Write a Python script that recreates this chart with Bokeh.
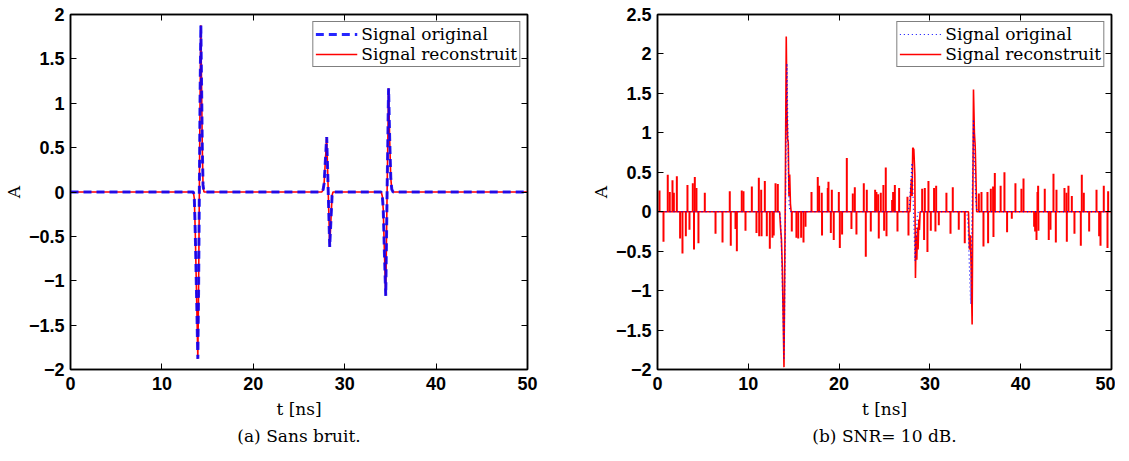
from bokeh.plotting import figure
from bokeh.layouts import row
from bokeh.models import Range1d, LinearAxis, FixedTicker, Title, Legend, LegendItem, CustomJSTickFormatter
from bokeh.embed import file_html
from bokeh.resources import INLINE

# ---------------- data ----------------
x_ticks = [0, 10, 20, 30, 40, 50]
y_ticks_a = [-2, -1.5, -1, -0.5, 0, 0.5, 1, 1.5, 2]
y_ticks_b = [-2, -1.5, -1, -0.5, 0, 0.5, 1, 1.5, 2, 2.5]

# original signal (three pulses)
orig_t1 = [13.45, 13.55, 13.65, 13.75, 13.85, 13.93, 14.01, 14.09, 14.17, 14.26, 14.34, 14.42, 14.5, 14.6]
orig_a1 = [0.0, -0.08, -0.45, -0.95, -1.45, -1.88, -1.15, -0.1, 1.0, 1.88, 1.2, 0.5, 0.08, 0.0]
orig_t2 = [27.5, 27.65, 27.75, 27.9, 28.03, 28.2, 28.36, 28.5, 28.62, 28.72]
orig_a2 = [0.0, 0.03, 0.1, 0.38, 0.62, 0.0, -0.62, -0.3, -0.04, 0.0]
orig_t3 = [34.0, 34.12, 34.22, 34.35, 34.49, 34.64, 34.8, 34.92, 35.04, 35.15, 35.3]
orig_a3 = [0.0, -0.05, -0.2, -0.7, -1.17, 0.0, 1.17, 0.6, 0.16, 0.03, 0.0]

# reconstructed signal with SNR = 10 dB: pulse regions
rec_t1 = [13.45, 13.55, 13.65, 13.75, 13.85, 13.93, 14.0, 14.08, 14.18, 14.26, 14.33, 14.4, 14.48, 14.56, 14.64, 14.72]
rec_a1 = [0.0, -0.2, -0.35, -0.72, -1.4, -1.97, -0.9, 0.3, 2.22, 1.3, 0.92, 0.88, 0.2, 0.47, 0.1, 0.0]
rec_t2 = [27.8, 27.9, 27.97, 28.04, 28.11, 28.23, 28.34, 28.41, 28.48, 28.56, 28.63, 28.7, 28.78, 28.85, 28.92]
rec_a2 = [0.0, 0.29, 0.42, 0.2, 0.81, 0.79, 0.47, -0.84, -0.3, -0.61, -0.2, -0.48, -0.1, -0.23, 0.0]
rec_t3 = [34.25, 34.36, 34.46, 34.55, 34.65, 34.8, 34.9, 34.99, 35.06, 35.15]
rec_a3 = [0.0, -0.48, -0.3, -0.74, -1.43, 1.55, 1.0, 0.83, 0.49, 0.0]

# reconstructed signal with SNR = 10 dB: isolated noise spikes
spike_t = [0.22, 0.66, 1.13, 1.35, 1.65, 1.80, 2.13, 2.49, 2.75, 3.12, 3.30, 3.52, 3.89, 4.02, 4.11,
           4.29, 4.51, 5.21, 6.39, 7.16, 7.96, 8.07, 8.59, 8.74, 9.28, 9.47, 9.69, 10.39, 10.90,
           11.16, 11.20, 11.42, 11.46, 11.82, 12.04, 12.37, 12.66, 12.80, 13.00, 13.25,
           14.79, 15.30, 15.50, 15.82, 16.08, 16.30, 16.96, 17.65, 17.80, 18.09, 18.12, 18.75,
           18.83, 19.09, 19.20, 19.41, 19.97, 20.08, 20.33, 20.85, 21.36, 21.51, 21.73, 21.91,
           22.72, 22.94, 23.05, 23.49, 23.97, 24.11, 24.30, 24.37, 24.59, 24.88, 24.96, 25.14,
           25.22, 25.84, 25.95, 26.14, 26.43, 26.61, 27.53, 27.64,
           29.15, 29.36, 29.44, 29.73, 29.84, 30.10, 30.46, 30.61, 30.69, 30.98, 31.82, 32.27,
           32.52, 33.18, 33.84,
           35.39, 35.68, 35.90, 36.34, 36.41, 36.71, 36.96, 37.00, 37.15, 37.79, 38.21, 38.50,
           39.02, 39.42, 40.08, 40.31, 41.48, 41.59, 41.74, 41.85, 41.92, 41.95, 42.65, 43.09,
           43.28, 43.61, 43.87, 43.94, 44.82, 45.04, 45.08, 45.26, 45.63, 45.92, 46.62, 46.73,
           46.95, 47.54, 48.35, 48.64, 48.79, 49.15, 49.56, 49.63]
spike_a = [0.27, -0.38, 0.47, 0.25, 0.40, 0.24, 0.45, -0.34, -0.53, -0.31, 0.34, -0.23, 0.36, -0.48, 0.44,
           0.30, -0.40, 0.24, -0.28, -0.39, 0.26, -0.43, -0.22, -0.50, 0.27, 0.26, -0.24, 0.32, -0.27,
           0.43, -0.31, 0.28, -0.31, 0.39, -0.31, -0.47, -0.33, -0.30, 0.36, 0.35,
           -0.25, -0.33, -0.34, -0.33, -0.39, -0.19, 0.25, 0.44, 0.33, 0.24, -0.30, 0.30,
           0.38, -0.27, 0.28, -0.36, 0.25, -0.46, -0.29, 0.68, -0.22, 0.23, 0.31, -0.29,
           0.36, -0.57, 0.28, -0.25, 0.28, 0.25, 0.22, -0.34, 0.24, 0.34, -0.24, 0.56,
           -0.31, 0.15, 0.25, 0.34, -0.25, 0.30, 0.19, -0.30,
           0.29, -0.36, 0.30, -0.51, 0.39, -0.24, 0.30, -0.25, 0.33, -0.17, 0.24, -0.28,
           0.31, -0.23, -0.40,
           0.23, 0.25, -0.44, 0.25, -0.40, 0.29, 0.32, -0.32, 0.49, 0.33, 0.50, -0.26,
           -0.09, 0.36, 0.29, 0.42, -0.19, -0.25, -0.36, 0.25, 0.33, -0.24, 0.29, -0.36,
           -0.23, 0.48, -0.39, 0.28, 0.30, 0.24, -0.38, 0.33, 0.20, -0.28, -0.43, 0.47,
           0.24, -0.25, 0.28, -0.31, -0.43, 0.33, -0.46, 0.26]

t_start, t_end = 0, 50

orig_t = [t_start] + orig_t1 + orig_t2 + orig_t3 + [t_end]
orig_a = [0.0] + orig_a1 + orig_a2 + orig_a3 + [0.0]
rec_t = [t_start] + rec_t1 + rec_t2 + rec_t3 + [t_end]
rec_a = [0.0] + rec_a1 + rec_a2 + rec_a3 + [0.0]

BLUE = "#0000ff"
RED = "#ff0000"
TICK_FONT = "Liberation Sans"
SERIF = "DejaVu Serif"


def fmt(v):
    s = ("%g" % abs(v))
    return ("\u2212" + s) if v < 0 else s


def make_fig(frame_w, y0, y1, yticks, mbl, mbr, caption):
    p = figure(frame_width=frame_w, frame_height=355, x_range=Range1d(0, 50), y_range=Range1d(y0, y1),
               output_backend="svg", toolbar_location=None,
               min_border_left=mbl, min_border_right=mbr, min_border_top=14, min_border_bottom=10)
    p.grid.visible = False
    p.outline_line_color = "black"
    p.outline_line_width = 1.5
    p.background_fill_color = "white"
    p.border_fill_color = "white"
    p.add_layout(LinearAxis(), "above")
    p.add_layout(LinearAxis(), "right")
    for ax in p.xaxis:
        ax.ticker = FixedTicker(ticks=x_ticks)
    for ax in p.yaxis:
        ax.ticker = FixedTicker(ticks=yticks)
    for ax in p.axis:
        ax.axis_line_color = "black"
        ax.axis_line_width = 1.5
        ax.major_tick_in = 6
        ax.major_tick_out = 0
        ax.major_tick_line_width = 1
        ax.minor_tick_line_color = None
        ax.major_label_text_font = TICK_FONT
        ax.major_label_text_font_style = "bold"
        ax.major_label_text_font_size = "18px"
        ax.major_label_text_color = "black"
    for ax in (p.above[0], p.right[0]):
        ax.formatter = CustomJSTickFormatter(code="return ''")
        ax.major_label_text_font_size = "1px"
        ax.major_label_standoff = 0
    bx = p.below[0]
    ly = p.left[0]
    bx.major_label_overrides = {v: fmt(v) for v in x_ticks}
    ly.major_label_overrides = {v: fmt(v) for v in yticks}
    bx.major_label_standoff = 7
    ly.major_label_standoff = 6
    bx.axis_label = "t [ns]"
    ly.axis_label = "A"
    for ax in (bx, ly):
        ax.axis_label_text_font = SERIF
        ax.axis_label_text_font_style = "normal"
        ax.axis_label_text_font_size = "17px"
        ax.axis_label_text_color = "black"
    bx.axis_label_standoff = 6
    ly.axis_label_standoff = 2
    p.add_layout(Title(text=caption, align="center", text_font=SERIF, text_font_style="normal",
                       text_color="black", text_font_size="17px", standoff=4), "below")
    return p


# ---------------- (a) Sans bruit ----------------
pa = make_fig(457, -2, 2, y_ticks_a, 63, 60, "(a) Sans bruit.")
ra_line = pa.line(orig_t, orig_a, line_color=RED, line_width=1.6)
oa_line = pa.line(orig_t, orig_a, line_color=BLUE, line_width=3, line_dash="8 5", line_alpha=0.85)
leg_a = Legend(items=[LegendItem(label="Signal original", renderers=[oa_line]),
                      LegendItem(label="Signal reconstruit", renderers=[ra_line])])
pa.add_layout(leg_a)

# ---------------- (b) SNR = 10 dB ----------------
pb = make_fig(454, -2, 2.5, y_ticks_b, 63, 4, "(b) SNR= 10 dB.")
rb_line = pb.line(rec_t, rec_a, line_color=RED, line_width=1.6)
pb.segment(x0=spike_t, y0=[0.0] * len(spike_t), x1=spike_t, y1=spike_a, line_color=RED, line_width=2)
ob_line = pb.line(orig_t, orig_a, line_color=BLUE, line_width=1.2, line_dash="1 3")
leg_b = Legend(items=[LegendItem(label="Signal original", renderers=[ob_line]),
                      LegendItem(label="Signal reconstruit", renderers=[rb_line])])
pb.add_layout(leg_b)

for lg in (leg_a, leg_b):
    lg.location = "top_right"
    lg.margin = 7
    lg.padding = 2
    lg.spacing = 0
    lg.glyph_width = 42
    lg.glyph_height = 18
    lg.label_height = 18
    lg.label_standoff = 4
    lg.label_text_font = SERIF
    lg.label_text_font_size = "17px"
    lg.label_text_color = "black"
    lg.border_line_color = "black"
    lg.border_line_width = 1
    lg.background_fill_alpha = 1.0

layout = row(pa, pb)
open("out.html", "w").write(file_html(layout, INLINE))
